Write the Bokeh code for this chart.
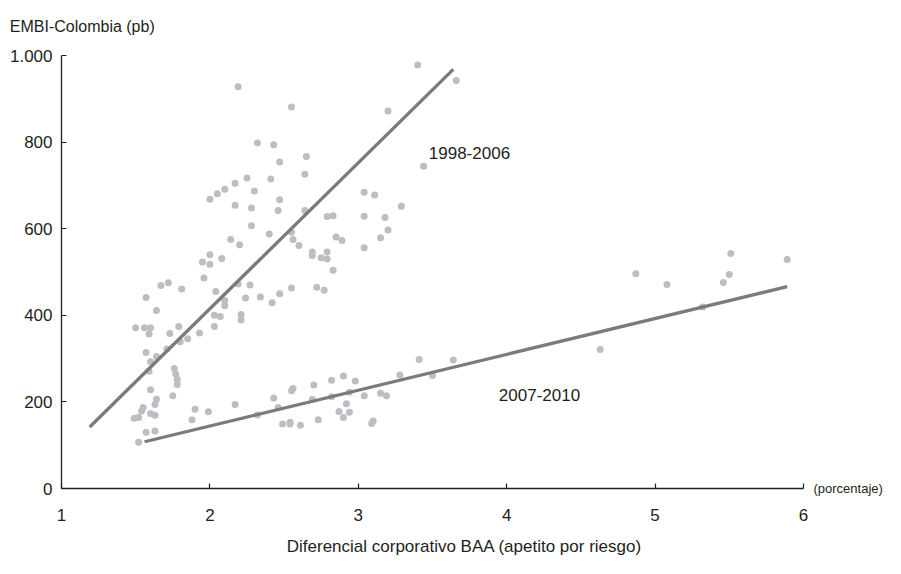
from bokeh.plotting import figure
from bokeh.models import Range1d, FixedTicker, Label, LinearAxis
from bokeh.embed import file_html
from bokeh.resources import INLINE

# ---------------- data ----------------
# EMBI-Colombia (pb) vs. Diferencial corporativo BAA (%), 1998-2006
s9806_x = [2.19, 2.55, 3.40, 3.66, 3.20, 2.32, 2.43, 2.47, 2.65, 2.64,
           3.44, 2.25, 2.41, 2.17, 2.10, 2.05, 2.00, 2.30, 3.04, 3.11,
           2.47, 2.17, 2.28, 2.46, 2.64, 3.29, 2.79, 2.83, 3.04, 3.18,
           2.28, 2.40, 2.55, 3.20, 3.15, 2.14, 2.20, 2.56, 2.60, 2.85,
           2.89, 3.04, 2.69, 2.69, 2.75, 2.79, 2.79, 2.83, 2.00, 1.95,
           2.00, 2.08, 1.96, 1.67, 1.72, 1.81, 1.57, 2.04, 2.19, 2.27,
           2.10, 2.10, 2.24, 2.34, 1.64, 2.42, 2.47, 2.55, 2.72, 2.77,
           2.03, 2.07, 2.03, 2.21, 2.21, 1.50, 1.56, 1.60, 1.59, 1.73,
           1.79, 1.85, 1.93, 1.80, 1.71, 1.57, 1.64, 1.60, 1.59]
s9806_y = [928, 881, 978, 942, 872, 798, 794, 754, 767, 726,
           744, 717, 715, 705, 691, 681, 668, 687, 684, 678,
           667, 654, 648, 642, 642, 652, 628, 630, 629, 626,
           607, 588, 592, 597, 579, 575, 563, 575, 561, 581,
           573, 556, 546, 538, 533, 546, 530, 504, 540, 523,
           518, 531, 486, 469, 475, 461, 441, 455, 472, 470,
           434, 422, 440, 442, 411, 429, 450, 463, 465, 458,
           400, 397, 374, 402, 389, 371, 371, 371, 357, 358,
           374, 346, 359, 339, 322, 314, 305, 293, 271]

# 2007-2010
s0710_x = [1.76, 1.77, 1.78, 1.78, 1.60, 1.75, 1.64, 1.63, 1.55, 1.54,
           1.60, 1.63, 1.49, 1.52, 1.90, 1.99, 2.17, 1.88, 1.57, 1.63,
           1.52, 2.32, 2.43, 2.46, 2.55, 2.56, 2.70, 2.82, 2.90, 2.98,
           2.69, 2.82, 2.94, 3.04, 3.15, 3.19, 2.92, 2.87, 2.90, 2.94,
           2.49, 2.54, 2.54, 2.61, 2.73, 3.09, 3.10, 3.41, 3.28, 3.50,
           3.64, 4.63, 4.87, 5.08, 5.51, 5.50, 5.46, 5.89, 5.32]
s0710_y = [277, 264, 252, 240, 228, 214, 206, 194, 187, 179,
           173, 169, 162, 164, 183, 177, 194, 159, 130, 133,
           107, 170, 209, 187, 226, 231, 239, 250, 260, 248,
           206, 212, 222, 214, 220, 214, 196, 178, 164, 176,
           149, 149, 153, 146, 159, 150, 156, 298, 262, 261,
           297, 321, 496, 471, 543, 494, 476, 529, 419]

# fitted lines (end points)
fit9806_x = [1.19, 3.64]
fit9806_y = [142, 968]
fit0710_x = [1.56, 5.89]
fit0710_y = [108, 466]

x_ticks = [1, 2, 3, 4, 5, 6]
y_ticks = [0, 200, 400, 600, 800, 1000]
y_tick_labels = ["0", "200", "400", "600", "800", "1.000"]

label_9806 = "1998-2006"
label_0710 = "2007-2010"
y_title = "EMBI-Colombia (pb)"
x_title = "Diferencial corporativo BAA (apetito por riesgo)"
x_unit = "(porcentaje)"

# ---------------- style ----------------
FONT = "Liberation Sans"
TXT = "#231f20"
PT = "#bdbec3"
LN = "#7b7b7d"

p = figure(width=885, height=558, x_range=Range1d(1, 6), y_range=Range1d(0, 1000),
           output_backend="svg", toolbar_location=None,
           min_border_left=61, min_border_right=82, min_border_top=55, min_border_bottom=68)
p.outline_line_color = None
p.xgrid.visible = False
p.ygrid.visible = False

p.scatter(s9806_x, s9806_y, size=7, fill_color=PT, line_color=None)
p.scatter(s0710_x, s0710_y, size=7, fill_color=PT, line_color=None)
p.line(fit9806_x, fit9806_y, line_color=LN, line_width=3.3)
p.line(fit0710_x, fit0710_y, line_color=LN, line_width=3.3)

for ax in (p.xaxis[0], p.yaxis[0]):
    ax.axis_line_color = TXT
    ax.axis_line_width = 1.3
    ax.major_tick_line_color = TXT
    ax.major_tick_line_width = 1.2
    ax.major_tick_in = 5
    ax.major_tick_out = 0
    ax.minor_tick_line_color = None
    ax.major_label_text_font = FONT
    ax.major_label_text_font_size = "17px"
    ax.major_label_text_color = TXT

p.xaxis.ticker = FixedTicker(ticks=x_ticks)
p.yaxis.ticker = FixedTicker(ticks=y_ticks)
p.yaxis.major_label_overrides = {t: s for t, s in zip(y_ticks, y_tick_labels)}
p.xaxis.major_label_standoff = 20
p.yaxis.major_label_standoff = 9


def text_axis(text, at, size, standoff):
    """A bare axis (no line, no ticks) whose single label carries a title text."""
    return LinearAxis(ticker=FixedTicker(ticks=[at]), major_label_overrides={at: text},
                      axis_line_color=None, major_tick_line_color=None,
                      major_tick_in=0, major_tick_out=0,
                      minor_tick_line_color=None, minor_tick_in=0, minor_tick_out=0,
                      major_label_standoff=standoff,
                      major_label_text_font=FONT, major_label_text_font_size=size,
                      major_label_text_color=TXT)


p.add_layout(text_axis(x_unit, 0, "13px", 10), "right")          # at y = 0
p.add_layout(text_axis(y_title, 1.14, "16px", 21), "above")      # at x = 1.14
p.add_layout(text_axis(x_title, 3.715, "17px", 13), "below")     # at x = 3.715


def lab(text, x, y):
    p.add_layout(Label(x=x, y=y, text=text, text_font=FONT, text_font_size="17px",
                       text_color=TXT, text_align="left", text_baseline="middle"))


lab(label_9806, 3.475, 774)
lab(label_0710, 3.947, 216)

open("out.html", "w").write(file_html(p, INLINE))
